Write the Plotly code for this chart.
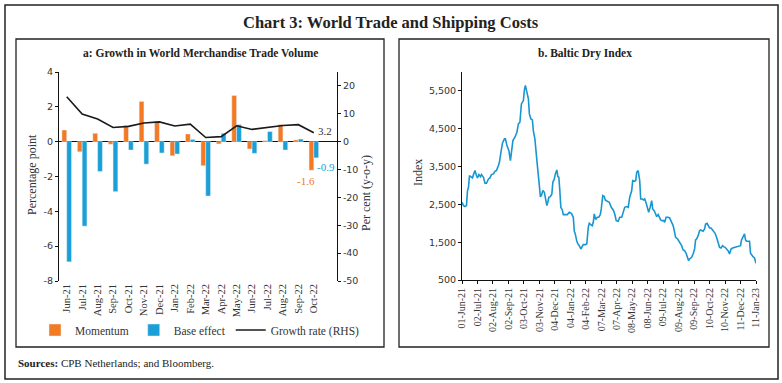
import plotly.graph_objects as go
import pandas as pd

# ---------------- Data: panel a ----------------
months = ["Jun-21", "Jul-21", "Aug-21", "Sep-21", "Oct-21", "Nov-21", "Dec-21",
          "Jan-22", "Feb-22", "Mar-22", "Apr-22", "May-22", "Jun-22", "Jul-22",
          "Aug-22", "Sep-22", "Oct-22"]
momentum = [0.67, -0.58, 0.48, -0.15, 0.92, 2.31, 1.15, -0.81, 0.44, -1.38,
            -0.13, 2.65, -0.42, 0.06, 0.98, 0.10, -1.64]
base_effect = [-6.90, -4.85, -1.71, -2.87, -0.48, -1.29, -0.65, -0.71, 0.13, -3.12,
               0.48, 0.98, -0.67, 0.58, -0.48, 0.15, -0.93]
growth_rate = [16.1, 9.9, 8.1, 5.1, 5.5, 6.7, 7.1, 5.6, 6.3, 1.5,
               1.8, 5.7, 4.4, 5.1, 5.8, 6.1, 3.2]
left_ticks = [-8, -6, -4, -2, 0, 2, 4]
right_ticks = [-50, -40, -30, -20, -10, 0, 10, 20]

# ---------------- Data: panel b (Baltic Dry Index) ----------------
bdi_start = "2021-06-01"
bdi_day = [0, 3, 6, 9, 11, 13, 15, 18, 21, 23, 26, 29, 31, 34, 37, 39, 43, 46, 49, 53,
           56, 59, 63, 66, 69, 73, 75, 78, 81, 85, 87, 90, 94, 97, 99, 102, 106, 110, 113, 116,
           119, 123, 125, 127, 130, 133, 135, 138, 141, 143, 146, 149, 151, 154, 157, 159, 162, 165, 167, 170,
           172, 174, 177, 180, 182, 185, 187, 190, 192, 194, 196, 198, 201, 203, 207, 211, 215, 219, 223, 225,
           227, 230, 233, 235, 238, 241, 243, 247, 250, 253, 255, 258, 261, 263, 265, 268, 271, 274, 277, 279,
           282, 285, 287, 291, 295, 299, 303, 306, 309, 313, 316, 320, 323, 326, 330, 333, 336, 340, 342, 345,
           348, 350, 353, 356, 358, 361, 364, 366, 369, 372, 374, 377, 380, 382, 385, 388, 390, 393, 396, 398,
           401, 404, 406, 409, 413, 416, 420, 423, 425, 428, 432, 434, 437, 440, 443, 446, 449, 452, 454, 456,
           460, 463, 466, 468, 470, 473, 476, 478, 480, 483, 486, 488, 491, 494, 496, 499, 502, 504, 507, 510,
           513, 516, 519, 522, 524, 527, 530, 533, 536, 539, 542, 546, 550, 554, 558, 560, 563, 566, 568, 570,
           573, 576, 578, 581, 583, 586, 588, 589]
bdi_value = [2555, 2467, 2440, 2467, 2864, 2952, 3261, 3217, 3199, 3287, 3393, 3261, 3199, 3287, 3234, 3287, 3217, 3058, 3058, 3172,
             3199, 3287, 3305, 3375, 3393, 3525, 3613, 3878, 4116, 4231, 4231, 4054, 3922, 3658, 3878, 4187, 4275, 4407, 4628, 4672,
             5157, 5245, 5527, 5642, 5466, 5289, 4892, 4760, 4734, 4434, 4231, 3658, 3525, 3128, 2705, 2731, 2864, 2820, 2687, 2467,
             2555, 2687, 2705, 2776, 3084, 3172, 3305, 3411, 3234, 3217, 2864, 2423, 2352, 2229, 2229, 2229, 2291, 2264, 2158, 1788,
             1717, 1523, 1435, 1408, 1320, 1382, 1435, 1435, 1453, 1894, 2000, 1964, 1938, 2026, 2246, 2097, 2158, 2158, 2229, 2379,
             2731, 2705, 2617, 2582, 2555, 2423, 2352, 2246, 2070, 2052, 2158, 2158, 2291, 2423, 2441, 2423, 2687, 2864, 3128, 3111,
             3128, 3349, 3393, 3128, 2643, 2643, 2617, 2643, 2529, 2335, 2291, 2423, 2599, 2379, 2335, 2246, 2176, 2229, 2114, 2088,
             2070, 2070, 2026, 2158, 2158, 2140, 2026, 1938, 1823, 1629, 1585, 1541, 1453, 1408, 1294, 1276, 1206, 1056, 1012, 1056,
             1100, 1188, 1320, 1559, 1585, 1673, 1805, 1823, 1805, 1788, 1849, 1982, 2000, 1938, 1876, 1876, 1823, 1788, 1735, 1629,
             1453, 1364, 1347, 1408, 1382, 1364, 1320, 1276, 1188, 1320, 1347, 1364, 1382, 1382, 1408, 1559, 1647, 1717, 1559, 1523,
             1523, 1523, 1206, 1144, 1118, 1082, 968, 941]
bdi_tick_labels = ["01-Jun-21", "02-Jul-21", "02-Aug-21", "02-Sep-21", "03-Oct-21", "03-Nov-21",
                   "04-Dec-21", "04-Jan-22", "04-Feb-22", "07-Mar-22", "07-Apr-22", "08-May-22",
                   "08-Jun-22", "09-Jul-22", "09-Aug-22", "09-Sep-22", "10-Oct-22", "10-Nov-22",
                   "11-Dec-22", "11-Jan-23"]
bdi_ticks = [500, 1500, 2500, 3500, 4500, 5500]

# ---------------- Styling helpers ----------------
W, H = 782, 383
def px(x):
    return x / W
def py(y):
    return 1 - y / H

ORANGE = "#F37A22"
BLUE = "#1A9FD6"
LINE_BLUE = "#1996D2"
SERIF = "Liberation Serif"
SANS = "DejaVu Sans"
TXT = "#333333"

bdi_dates = pd.to_datetime(bdi_start) + pd.to_timedelta(bdi_day, unit="D")
bdi_tickvals = pd.to_datetime(bdi_tick_labels, format="%d-%b-%y")

fig = go.Figure()

fig.add_trace(go.Bar(x=months, y=momentum, name="Momentum", marker_color=ORANGE,
                     xaxis="x", yaxis="y"))
fig.add_trace(go.Bar(x=months, y=base_effect, name="Base effect", marker_color=BLUE,
                     xaxis="x", yaxis="y"))
fig.add_trace(go.Scatter(x=months, y=growth_rate, name="Growth rate (RHS)", mode="lines",
                         line=dict(color="#1a1a1a", width=1.6), xaxis="x", yaxis="y2"))
fig.add_trace(go.Scatter(x=bdi_dates, y=bdi_value, mode="lines", showlegend=False,
                         line=dict(color=LINE_BLUE, width=1.6), xaxis="x3", yaxis="y3"))

axis_common = dict(showgrid=False, linecolor="#111111", linewidth=1, ticks="outside",
                   ticklen=3, tickcolor="#111111", automargin=False)

fig.update_layout(
    width=W, height=H, autosize=False,
    margin=dict(l=0, r=0, t=0, b=0, pad=0),
    paper_bgcolor="white", plot_bgcolor="rgba(0,0,0,0)",
    barmode="group", bargap=0.38, bargroupgap=0.0,
    xaxis=dict(domain=[px(59), px(337)], anchor="y", type="category",
               categoryorder="array", categoryarray=months, range=[-0.5, 17.5],
               tickangle=-90, showline=False, showgrid=False, ticks="", automargin=False,
               tickfont=dict(family=SERIF, size=10.5, color=TXT)),
    yaxis=dict(domain=[py(281), py(72)], anchor="x", range=[-8, 4],
               tickvals=left_ticks, ticktext=[str(v) for v in left_ticks],
               showline=True, zeroline=True, zerolinecolor="#111111", zerolinewidth=1,
               tickfont=dict(family=SANS, size=9.5, color=TXT), **axis_common),
    yaxis2=dict(overlaying="y", anchor="x", side="right", range=[-50, 25],
                tickvals=right_ticks, ticktext=[str(v) for v in right_ticks],
                showline=True, zeroline=False,
                tickfont=dict(family=SANS, size=9.5, color=TXT), **axis_common),
    xaxis3=dict(domain=[px(462), px(756)], anchor="y3", type="date",
                range=[bdi_tickvals[0], bdi_tickvals[-1]],
                tickvals=bdi_tickvals, ticktext=bdi_tick_labels, tickangle=-90,
                showline=True, tickfont=dict(family=SERIF, size=10, color=TXT), **axis_common),
    yaxis3=dict(domain=[py(280), py(72)], anchor="x3", range=[500, 6000],
                tickvals=bdi_ticks, tickformat=",", showline=True, zeroline=False,
                tickfont=dict(family=SANS, size=9.5, color=TXT), **axis_common),
    legend=dict(orientation="h", x=px(200), xanchor="center", y=py(330), yanchor="middle",
                font=dict(family=SERIF, size=11.5, color=TXT), itemwidth=30,
                bgcolor="rgba(0,0,0,0)", tracegroupgap=0),
)

# Frames
shapes = [
    dict(type="rect", xref="paper", yref="paper", x0=px(5), x1=px(778), y0=py(379), y1=py(5),
         line=dict(color="#222222", width=1.5)),
    dict(type="rect", xref="paper", yref="paper", x0=px(16), x1=px(384), y0=py(347), y1=py(39),
         line=dict(color="#222222", width=1.3)),
    dict(type="rect", xref="paper", yref="paper", x0=px(399), x1=px(769), y0=py(347), y1=py(39),
         line=dict(color="#222222", width=1.3)),
]
fig.update_layout(shapes=shapes)

annots = [
    dict(text="<b>Chart 3: World Trade and Shipping Costs</b>", x=px(391), y=py(23),
         font=dict(family=SERIF, size=16.5, color="#222222")),
    dict(text="<b>a: Growth in World Merchandise Trade Volume</b>", x=px(200), y=py(53),
         font=dict(family=SERIF, size=11.5, color="#222222")),
    dict(text="<b>b. Baltic Dry Index</b>", x=px(585), y=py(53),
         font=dict(family=SERIF, size=11.5, color="#222222")),
    dict(text="Percentage point", x=px(32), y=py(175), textangle=-90,
         font=dict(family=SERIF, size=12, color=TXT)),
    dict(text="Per cent (y-o-y)", x=px(366), y=py(193), textangle=-90,
         font=dict(family=SERIF, size=12, color=TXT)),
    dict(text="Index", x=px(418), y=py(173), textangle=-90,
         font=dict(family=SERIF, size=12, color=TXT)),
    dict(text="<b>Sources:</b> CPB Netherlands; and Bloomberg.", x=px(16), y=py(363),
         xanchor="left", font=dict(family=SERIF, size=11, color="#222222")),
]
for a in annots:
    a.setdefault("xref", "paper")
    a.setdefault("yref", "paper")
    a.setdefault("showarrow", False)
    a.setdefault("xanchor", "center")
    a.setdefault("yanchor", "middle")
    fig.add_annotation(**a)

# Data labels for the last month
last = months[-1]
fig.add_annotation(x=last, y=growth_rate[-1], xref="x", yref="y2", text=f"{growth_rate[-1]:.1f}",
                   showarrow=False, xshift=11, yshift=2,
                   font=dict(family=SERIF, size=11, color=TXT))
fig.add_annotation(x=last, y=base_effect[-1], xref="x", yref="y",
                   text=f"{int(base_effect[-1]*10)/10:.1f}",
                   showarrow=False, xshift=12, yshift=-9,
                   font=dict(family=SERIF, size=11, color=BLUE))
fig.add_annotation(x=last, y=momentum[-1], xref="x", yref="y",
                   text=f"{int(momentum[-1]*10)/10:.1f}",
                   showarrow=False, xshift=-8, yshift=-11,
                   font=dict(family=SERIF, size=11, color=ORANGE))

fig.write_html("out.html", config={"displayModeBar": False},
               post_script="document.body.style.margin='0';")
